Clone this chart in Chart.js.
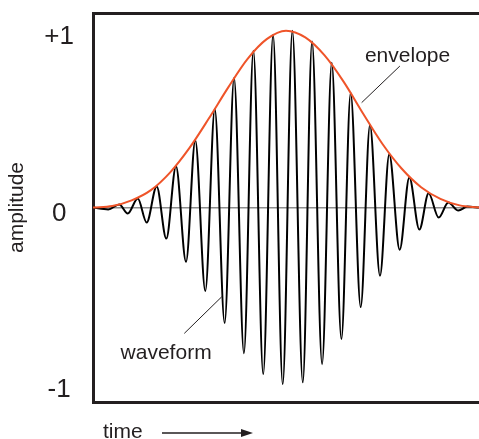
<!DOCTYPE html>
<html>
<head>
<meta charset="utf-8">
<script src="https://cdn.jsdelivr.net/npm/chart.js@4.4.0/dist/chart.umd.min.js"></script>
<style>
  html, body { margin: 0; padding: 0; background: #fff; }
  #wrap { position: relative; width: 479px; height: 439px; }
</style>
</head>
<body>
<div id="wrap"><canvas id="chart"></canvas></div>
<script>
// Data (time in periods, amplitude -1..+1)
const waveTimes = [0, 0.79, 1.36, 1.80, 2.32, 2.78, 3.30, 3.80, 4.30, 4.82, 5.30, 5.82, 6.31, 6.82,
  7.31, 7.82, 8.31, 8.82, 9.33, 9.83, 10.33, 10.87, 11.35, 11.87, 12.37, 12.87, 13.35, 13.87,
  14.35, 14.87, 15.35, 15.89, 16.39, 16.91, 17.39, 17.91, 18.41, 18.93, 19.4, 20];
const waveValues = [0, -0.011, 0.017, -0.034, 0.051, -0.085, 0.119, -0.176, 0.233, -0.307, 0.381, -0.472, 0.557, -0.653,
  0.733, -0.824, 0.886, -0.943, 0.977, -1.0, 1.0, -0.989, 0.939, -0.886, 0.818, -0.744, 0.648, -0.563,
  0.466, -0.386, 0.301, -0.239, 0.170, -0.125, 0.080, -0.057, 0.028, -0.017, 0.005, 0];

const envelopeTimes = [0, 1, 2, 3, 4, 5, 6, 7, 8, 9, 10, 11, 12, 13, 14, 15, 16, 17, 18, 19, 20];
const envelopeValues = [0, 0.008, 0.040, 0.098, 0.199, 0.337, 0.503, 0.678, 0.839, 0.952, 1.0,
  0.962, 0.86, 0.709, 0.530, 0.359, 0.219, 0.115, 0.049, 0.012, 0];

const yTickValues = [-1, 0, 1];

const INK = '#231f20';
const ZERO_LINE = '#8c8c8c';
const ENVELOPE_COLOR = '#ef5429';
const FONT = '"Liberation Sans", Arial, Helvetica, sans-serif';

Chart.defaults.font.family = FONT;
Chart.defaults.color = INK;

const toPoints = (ts, vs) => ts.map((t, i) => ({ x: t, y: vs[i] }));

// Labels and leader lines, placed in data units
const annotations = {
  id: 'annotations',
  afterDraw(chart) {
    const { ctx, chartArea: area, scales: { x, y } } = chart;
    const px = t => x.getPixelForValue(t);
    const py = v => y.getPixelForValue(v);

    ctx.save();
    ctx.fillStyle = INK;
    ctx.strokeStyle = INK;
    ctx.font = '21px ' + FONT;
    ctx.textBaseline = 'alphabetic';
    ctx.textAlign = 'left';

    ctx.fillText('envelope', px(14.09), py(0.825));
    ctx.fillText('waveform', px(1.43), py(-0.857));

    ctx.lineWidth = 1;
    ctx.beginPath();
    ctx.moveTo(px(15.9), py(0.80));
    ctx.lineTo(px(13.92), py(0.593));
    ctx.moveTo(px(4.73), py(-0.712));
    ctx.lineTo(px(6.67), py(-0.505));
    ctx.stroke();

    // time label with arrow under the axis
    ctx.fillText('time', area.left + 10, area.bottom + 35.5);
    const ay = area.bottom + 31;
    ctx.lineWidth = 1.5;
    ctx.beginPath();
    ctx.moveTo(area.left + 69, ay);
    ctx.lineTo(area.left + 149, ay);
    ctx.stroke();
    ctx.beginPath();
    ctx.moveTo(area.left + 160, ay);
    ctx.lineTo(area.left + 148, ay - 4);
    ctx.lineTo(area.left + 148, ay + 4);
    ctx.closePath();
    ctx.fill();
    ctx.restore();
  }
};

new Chart(document.getElementById('chart'), {
  type: 'line',
  data: {
    datasets: [
      {
        label: 'envelope',
        data: toPoints(envelopeTimes, envelopeValues),
        borderColor: ENVELOPE_COLOR,
        borderWidth: 2,
        pointRadius: 0,
        cubicInterpolationMode: 'monotone',
        xAxisID: 'x',
        order: 0
      },
      {
        label: 'waveform',
        data: toPoints(waveTimes, waveValues),
        borderColor: '#000',
        borderWidth: 2,
        pointRadius: 0,
        cubicInterpolationMode: 'monotone',
        xAxisID: 'x',
        order: 1
      }
    ]
  },
  options: {
    responsive: true,
    maintainAspectRatio: false,
    animation: false,
    devicePixelRatio: 1,
    layout: { padding: 0, autoPadding: false },
    plugins: {
      legend: { display: false },
      tooltip: { enabled: false }
    },
    scales: {
      x: {
        type: 'linear',
        position: 'bottom',
        min: 0,
        max: 20,
        ticks: { display: false },
        grid: { display: false, drawTicks: false },
        border: { display: true, color: INK, width: 3 },
        afterFit: s => { s.height = 37; s.paddingLeft = 0; s.paddingRight = 0; }
      },
      xTop: {
        type: 'linear',
        position: 'top',
        min: 0,
        max: 20,
        ticks: { display: false },
        grid: { display: false, drawTicks: false },
        border: { display: true, color: INK, width: 3 },
        afterFit: s => { s.height = 13; s.paddingLeft = 0; s.paddingRight = 0; }
      },
      y: {
        type: 'linear',
        position: 'left',
        min: -1.1,
        max: 1.1,
        afterBuildTicks: s => { s.ticks = yTickValues.map(v => ({ value: v })); },
        ticks: {
          callback: v => (v > 0 ? '+' + v : String(v)),
          font: { size: 26 },
          color: INK,
          crossAlign: 'center',
          padding: 19,
          labelOffset: 6
        },
        grid: {
          drawTicks: false,
          color: c => (c.tick && c.tick.value === 0 ? ZERO_LINE : 'rgba(0,0,0,0)'),
          lineWidth: 1.5
        },
        border: { display: true, color: INK, width: 3 },
        title: {
          display: true,
          text: 'amplitude',
          font: { size: 21 },
          color: INK,
          padding: { top: 5, bottom: 0 }
        },
        afterFit: s => { s.width = 93; s.paddingTop = 0; s.paddingBottom = 0; }
      }
    }
  },
  plugins: [annotations]
});
</script>
</body>
</html>
